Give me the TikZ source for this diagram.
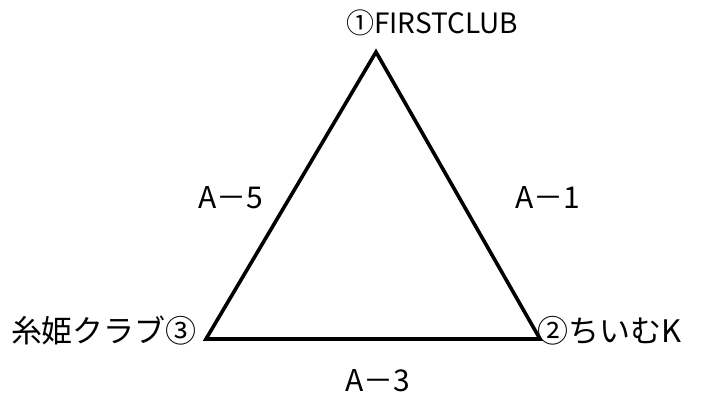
\documentclass[tikz,border=0pt]{standalone}
\usepackage{fontspec}
\setmainfont{Noto Sans CJK JP}
\begin{document}
\begin{tikzpicture}[x=1pt,y=1pt,
  lbl/.style={inner sep=0pt, font=\fontsize{28}{32}\selectfont},
  jlbl/.style={inner sep=0pt, font=\fontsize{31}{34}\selectfont},
  edgelbl/.style={inner sep=0pt, font=\fontsize{30}{34}\selectfont},
  side/.style={line width=3.6pt, line join=miter}]
\useasboundingbox (0,0) rectangle (705,397);
\coordinate (t) at (376,345);
\coordinate (l) at (206,58);
\coordinate (r) at (540,58);
\draw[side] (t) -- (r) -- (l) -- cycle;
\node[lbl] (n1) at (432,374) {①FIRSTCLUB};
\node[jlbl] (n3) at (104,66) {糸姫クラブ③};
\node[jlbl] (n2) at (610,66) {②ちいむK};
\node[edgelbl] (e5) at (231,199) {A－5};
\node[edgelbl] (e1) at (548,199) {A－1};
\node[edgelbl] (e3) at (378,16) {A－3};
\end{tikzpicture}
\end{document}
